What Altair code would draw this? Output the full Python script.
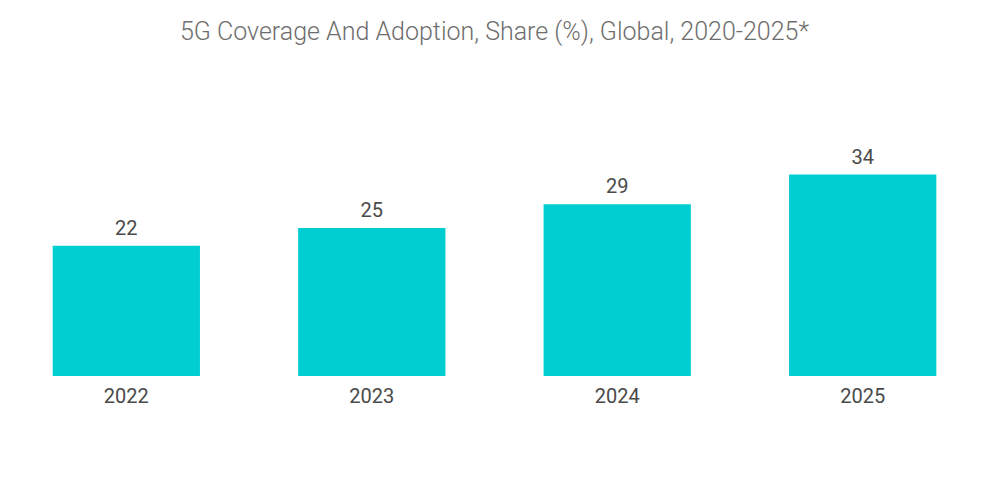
import altair as alt
import pandas as pd

years = ["2022", "2023", "2024", "2025"]
shares = [22, 25, 29, 34]

df = pd.DataFrame({"year": years, "share": shares})

base = alt.Chart(df).encode(
    x=alt.X("year:N", sort=years,
            scale=alt.Scale(paddingInner=0.4, paddingOuter=0.182),
            axis=alt.Axis(title=None, labelAngle=0, labelFontSize=20, labelColor="#4a4a4a",
                          labelFont="Roboto", labelPadding=10, ticks=False, domain=False)),
    y=alt.Y("share:Q", scale=alt.Scale(domain=[0, 40]), axis=None),
)

bars = base.mark_bar(color="#00CED1")
labels = base.mark_text(dy=-7, fontSize=20, font="Roboto", color="#4a4a4a", baseline="bottom").encode(
    text=alt.Text("share:Q")
)

chart = (bars + labels).properties(
    width=973,
    height=237,
    title=alt.TitleParams(
        "5G Coverage And Adoption, Share (%), Global, 2020-2025*",
        fontSize=25, font="Roboto", fontWeight=300, color="#6e6e6e", offset=94, anchor="middle",
    ),
    autosize=alt.AutoSizeParams(type="none"),
    padding={"left": 0, "top": 131, "right": 10, "bottom": 100},
).configure_view(stroke=None)

chart.save("out.html", embed_options={"renderer": "svg", "actions": False})
